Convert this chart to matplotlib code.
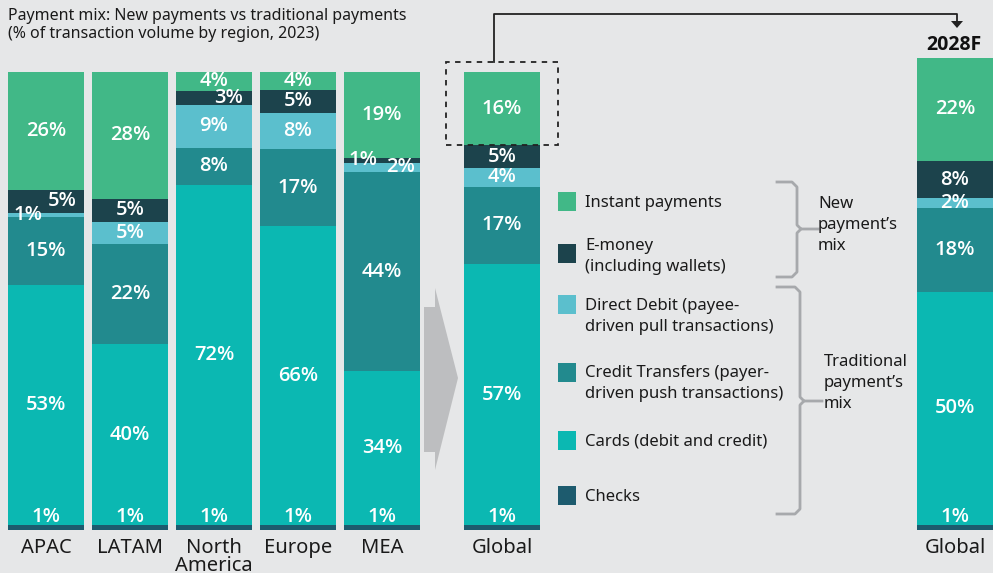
import matplotlib.pyplot as plt
from matplotlib.patches import Polygon, Rectangle
import numpy as np

plt.rcParams['font.family'] = ['Noto Sans', 'DejaVu Sans']

# data, bottom -> top of each bar
regions = ["APAC", "LATAM", "North\nAmerica", "Europe", "MEA", "Global"]
series = ["Checks", "Cards (debit and credit)",
          "Credit Transfers (payer-\ndriven push transactions)",
          "Direct Debit (payee-\ndriven pull transactions)",
          "E-money\n(including wallets)", "Instant payments"]
checks = [1, 1, 1, 1, 1, 1]
cards = [53, 40, 72, 66, 34, 57]
credit = [15, 22, 8, 17, 44, 17]
direct_debit = [1, 5, 9, 8, 2, 4]
emoney = [5, 5, 3, 5, 1, 5]
instant = [26, 28, 4, 4, 19, 16]

forecast_title = "2028F"
forecast_label = "Global"
forecast = [1, 50, 18, 2, 8, 22]

title = "Payment mix: New payments vs traditional payments\n(% of transaction volume by region, 2023)"

colors = ["#1d5b6e", "#0bb8b2", "#228a8e", "#5bbfcd", "#1c434c", "#41b887"]
bg = "#e6e7e8"
W, H = 993, 573
LBL = dict(family=["Open Sans", "Noto Sans", "DejaVu Sans"], fontweight="semibold",
           fontsize=14.5, color="white")

# small segments get their label pushed sideways (pixels)
nudge = {(0, 3): -18, (0, 4): 16, (2, 4): 15, (4, 4): -19, (4, 3): 19}


def px(v):
    return v * 0.72  # pixels -> points at dpi 100


def draw_stack(ax, xs, vals, width, tweak=None):
    vals = np.array(vals, dtype=float)
    frac = vals / vals.sum(axis=0)
    bottom = np.zeros(len(xs))
    for i, row in enumerate(frac):
        ax.bar(xs, row, width, bottom=bottom, color=colors[i], linewidth=0)
        for j, x in enumerate(xs):
            txt = f"{int(vals[i, j])}%"
            if i == 0:
                ax.annotate(txt, (x, bottom[j] + row[j]), xytext=(0, px(-2)),
                            textcoords="offset points", ha="center", va="bottom", **LBL)
            else:
                dx = (tweak or {}).get((j, i), 0)
                ax.annotate(txt, (x, bottom[j] + row[j] / 2), xytext=(px(dx), 0),
                            textcoords="offset points", ha="center", va="center", **LBL)
        bottom += row
    return frac


fig = plt.figure(figsize=(W / 100, H / 100), dpi=100, facecolor=bg)

# main bars: regions + global 2023
unit = 84.0
xs = np.array([0, 1, 2, 3, 4, 456 / unit])
ax = fig.add_axes([0, 1 - 530 / H, 560 / W, 458 / H])
ax.set_facecolor("none")
frac = draw_stack(ax, xs, [checks, cards, credit, direct_debit, emoney, instant], 76 / unit, nudge)
ax.set_xlim(-46 / unit, -46 / unit + 560 / unit)
ax.set_ylim(0, 1)
ax.set_xticks(xs, regions, fontsize=14.5, color="#1a1a1a")
for t in ax.get_xticklabels():
    t.set_linespacing(0.85)
ax.tick_params(length=0, pad=px(8))
ax.set_yticks([])
for s in ax.spines.values():
    s.set_visible(False)

# dashed box around the global instant-payments segment
g = len(xs) - 1
inst_bottom = 1 - frac[-1, g]
ax.add_patch(Rectangle((xs[g] - 56 / unit, inst_bottom), 112 / unit, frac[-1, g] + 10 / 458,
                       fill=False, ls=(0, (3, 3)), lw=1.3, ec="#222222", clip_on=False, zorder=4))

# forecast bar
ax2 = fig.add_axes([917 / W, 1 - 530 / H, 76 / W, 472 / H])
ax2.set_facecolor("none")
draw_stack(ax2, [0], [[v] for v in forecast], 1.0)
ax2.set_xlim(-0.5, 0.5)
ax2.set_ylim(0, 1)
ax2.set_xticks([0], [forecast_label], fontsize=14.5, color="#1a1a1a")
ax2.tick_params(length=0, pad=px(8))
ax2.set_yticks([])
for s in ax2.spines.values():
    s.set_visible(False)

# overlay in pixel coordinates for annotations
ov = fig.add_axes([0, 0, 1, 1], zorder=5)
ov.set_xlim(0, W)
ov.set_ylim(H, 0)
ov.axis("off")
ov.set_facecolor("none")

ov.text(8, 8, title, ha="left", va="top", fontsize=11.5, color="#1a1a1a", linespacing=1.15)

# big gray arrow between regions and global
ov.add_patch(Polygon([(424, 307), (435, 307), (435, 288), (458, 378), (435, 470),
                      (435, 452), (424, 452)], closed=True, color="#bdbec0", lw=0))

# connector to forecast
ov.plot([494, 494, 957, 957], [62, 14, 14, 22], color="#222222", lw=1.3)
ov.add_patch(Polygon([(951, 21), (963, 21), (957, 28)], closed=True, color="#222222", lw=0))
ov.text(954, 45, forecast_title, ha="center", va="center", fontsize=14, fontweight="bold",
        family=["Open Sans", "DejaVu Sans"], color="#111111")

# legend
leg_rows = [(5, 201, 202), (4, 253, 245), (3, 304, 305), (2, 372, 372), (1, 440, 441), (0, 495, 496)]
for i, sq_y, txt_y in leg_rows:
    ov.add_patch(Rectangle((558, sq_y - 9), 18, 19, color=colors[i], lw=0))
    ov.text(585, txt_y - 7, series[i], ha="left", va="top", fontsize=12,
            color="#1a1a1a", linespacing=1.45)

# brackets
bc = "#a7a9ac"
ov.plot([777, 792, 797, 797, 801, 818], [182, 182, 187, 225, 229, 229], color=bc, lw=2)
ov.plot([801, 797, 797, 792, 777], [229, 233, 272, 277, 277], color=bc, lw=2)
ov.plot([777, 795, 800, 800, 804, 822], [287, 287, 292, 397, 401, 401], color=bc, lw=2)
ov.plot([804, 800, 800, 795, 777], [401, 405, 509, 514, 514], color=bc, lw=2)
ov.text(818, 196, "New\npayment’s\nmix", ha="left", va="top", fontsize=12,
        color="#1a1a1a", linespacing=1.42)
ov.text(824, 354, "Traditional\npayment’s\nmix", ha="left", va="top", fontsize=12,
        color="#1a1a1a", linespacing=1.42)

fig.savefig("out.png", dpi=100, facecolor=bg)
